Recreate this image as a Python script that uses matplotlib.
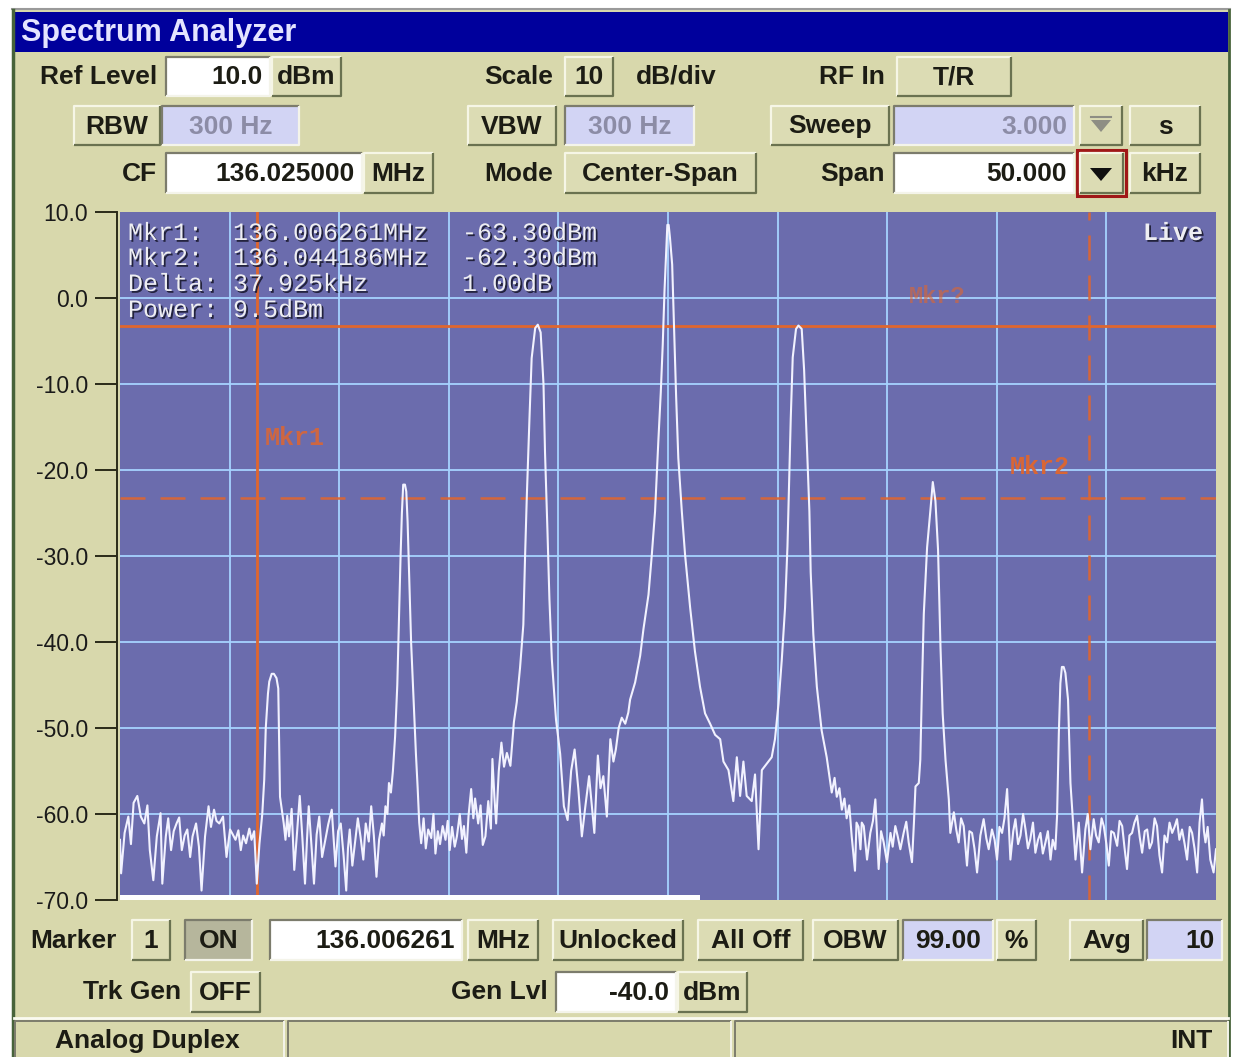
import numpy as np
import matplotlib
matplotlib.use("Agg")
import matplotlib.pyplot as plt
import matplotlib.patheffects as pe
from matplotlib.patches import Rectangle, Polygon

plt.rcParams["font.family"] = ["Liberation Sans", "DejaVu Sans"]

# instrument settings, as shown in the fields
center_mhz = 136.025000
span_khz = 50.0
y_ticks_dbm = [10.0, 0.0, -10.0, -20.0, -30.0, -40.0, -50.0, -60.0, -70.0]
x_div_khz = [0, 5, 10, 15, 20, 25, 30, 35, 40, 45, 50]

# markers
mkr1_mhz = 136.006261
mkr2_mhz = 136.044186
mkr_ref_line_dbm = -3.2
mkr_delta_line_dbm = -23.2

readout = [
    ("Mkr1:", "136.006261MHz", "-63.30dBm"),
    ("Mkr2:", "136.044186MHz", "-62.30dBm"),
    ("Delta:", "37.925kHz", "1.00dB"),
    ("Power:", "9.5dBm", ""),
]

# trace: (kHz from start of span, dBm)
trace = [
    (0.00, -63.0), (0.05, -66.9), (0.21, -62.2), (0.38, -60.3), (0.50, -63.5),
    (0.62, -58.7), (0.79, -57.9), (0.95, -60.3), (1.11, -61.1), (1.25, -59.0),
    (1.36, -64.2), (1.52, -67.7), (1.68, -62.6), (1.85, -59.9), (1.93, -68.1),
    (2.09, -62.6), (2.20, -60.5), (2.33, -64.2), (2.45, -62.0), (2.58, -61.1),
    (2.70, -60.4), (2.82, -64.2), (2.95, -62.5), (3.07, -61.8), (3.20, -65.0),
    (3.31, -62.6), (3.47, -61.1), (3.60, -63.8), (3.72, -68.9), (3.88, -62.6),
    (4.04, -59.1), (4.15, -61.5), (4.29, -59.5), (4.40, -60.8), (4.53, -61.1),
    (4.70, -60.3), (4.86, -65.0), (5.02, -61.8), (5.15, -62.4), (5.27, -63.0),
    (5.40, -61.9), (5.51, -64.2), (5.62, -62.5), (5.75, -63.4), (5.90, -61.7),
    (6.00, -63.0), (6.12, -62.0), (6.24, -68.1), (6.36, -63.5), (6.49, -60.0),
    (6.58, -56.0), (6.65, -50.0), (6.75, -46.0), (6.81, -44.6), (6.92, -43.7),
    (7.02, -43.7), (7.14, -44.2), (7.22, -45.4), (7.26, -52.0), (7.30, -58.0),
    (7.47, -61.1), (7.55, -63.0), (7.63, -60.2), (7.71, -62.6), (7.83, -59.4),
    (7.95, -66.5), (8.08, -62.0), (8.20, -57.9), (8.32, -62.8), (8.44, -68.1),
    (8.53, -63.0), (8.61, -59.1), (8.73, -63.5), (8.85, -68.1), (8.97, -62.4),
    (9.09, -60.3), (9.22, -65.0), (9.34, -63.4), (9.50, -61.2), (9.66, -59.5),
    (9.75, -63.0), (9.83, -66.1), (9.95, -62.0), (10.07, -61.1), (10.20, -64.8),
    (10.32, -68.9), (10.40, -64.0), (10.48, -61.8), (10.60, -66.0), (10.72, -63.4),
    (10.85, -60.5), (10.97, -62.6), (11.10, -65.3), (11.21, -61.1), (11.35, -63.2),
    (11.46, -59.1), (11.58, -62.5), (11.70, -67.3), (11.82, -63.0), (11.95, -61.1),
    (12.03, -62.5), (12.11, -59.1), (12.20, -60.0), (12.27, -56.4), (12.36, -57.5),
    (12.45, -55.0), (12.55, -51.0), (12.65, -45.0), (12.72, -38.0), (12.80, -30.0),
    (12.86, -25.0), (12.92, -21.7), (13.00, -21.7), (13.06, -22.5), (13.12, -26.0),
    (13.20, -33.0), (13.28, -40.0), (13.40, -47.0), (13.50, -53.0), (13.58, -57.0),
    (13.65, -61.0), (13.74, -63.4), (13.85, -60.5), (13.95, -64.0), (14.06, -61.8),
    (14.20, -62.8), (14.30, -60.0), (14.39, -64.6), (14.50, -62.0), (14.60, -63.5),
    (14.72, -61.4), (14.85, -63.0), (14.95, -60.8), (15.04, -64.2), (15.15, -61.5),
    (15.27, -63.8), (15.37, -62.6), (15.50, -60.0), (15.60, -62.9), (15.69, -61.4),
    (15.80, -64.5), (15.90, -60.2), (16.02, -57.1), (16.12, -60.5), (16.20, -58.2),
    (16.34, -61.1), (16.45, -59.0), (16.55, -63.6), (16.67, -62.6), (16.80, -58.5),
    (16.92, -61.7), (16.99, -53.6), (17.08, -58.0), (17.16, -61.1), (17.28, -55.0),
    (17.40, -51.7), (17.52, -54.5), (17.65, -52.9), (17.81, -54.4), (17.97, -49.3),
    (18.10, -47.0), (18.25, -43.0), (18.40, -38.0), (18.48, -30.0), (18.56, -23.0),
    (18.68, -14.0), (18.78, -7.0), (18.94, -3.5), (19.06, -3.1), (19.19, -4.0),
    (19.32, -10.0), (19.39, -18.0), (19.50, -27.0), (19.59, -35.0), (19.70, -42.0),
    (19.89, -49.0), (20.08, -53.0), (20.25, -59.1), (20.42, -60.7), (20.58, -55.0),
    (20.74, -52.5), (20.91, -57.1), (21.07, -62.6), (21.23, -59.1), (21.40, -55.6),
    (21.52, -58.9), (21.64, -62.2), (21.80, -53.2), (21.92, -57.0), (22.05, -55.6),
    (22.21, -60.3), (22.37, -51.3), (22.51, -53.9), (22.62, -52.5), (22.75, -50.0),
    (22.89, -48.8), (23.05, -49.5), (23.19, -48.2), (23.27, -46.7), (23.50, -44.7),
    (23.73, -41.6), (23.88, -38.5), (24.11, -34.5), (24.26, -29.9), (24.41, -24.8),
    (24.56, -16.6), (24.67, -11.0), (24.76, -5.4), (24.84, 0.8), (24.91, 4.9),
    (24.97, 8.5), (25.03, 8.5), (25.09, 7.0), (25.19, 3.9), (25.28, -3.8),
    (25.37, -11.4), (25.47, -18.6), (25.63, -24.8), (25.78, -29.9), (26.01, -36.0),
    (26.23, -41.1), (26.46, -45.2), (26.69, -48.3), (26.92, -49.5), (27.15, -50.8),
    (27.38, -51.3), (27.53, -53.9), (27.76, -54.9), (27.98, -58.5), (28.14, -53.4),
    (28.29, -57.9), (28.44, -53.9), (28.59, -57.9), (28.82, -58.5), (28.97, -55.4),
    (29.13, -64.1), (29.28, -54.9), (29.43, -54.4), (29.58, -53.9), (29.73, -53.4),
    (29.88, -51.3), (30.04, -47.2), (30.19, -42.1), (30.34, -36.0), (30.45, -28.9),
    (30.54, -19.7), (30.60, -14.0), (30.69, -6.9), (30.84, -3.6), (30.95, -3.2),
    (31.10, -3.6), (31.21, -8.4), (31.33, -16.6), (31.45, -24.8), (31.51, -31.9),
    (31.63, -39.1), (31.79, -45.2), (32.01, -50.3), (32.24, -53.4), (32.47, -57.5),
    (32.60, -55.8), (32.70, -58.0), (32.82, -57.0), (32.93, -59.5), (33.05, -58.2),
    (33.15, -60.5), (33.27, -59.0), (33.38, -62.6), (33.53, -66.6), (33.60, -61.0),
    (33.69, -61.5), (33.78, -64.1), (33.84, -61.0), (33.93, -61.4), (34.08, -65.3),
    (34.23, -62.2), (34.35, -60.8), (34.46, -58.3), (34.61, -66.4), (34.72, -62.0),
    (34.84, -63.3), (34.99, -65.6), (35.15, -62.2), (35.25, -63.8), (35.37, -61.4),
    (35.48, -62.6), (35.60, -64.1), (35.75, -62.2), (35.87, -60.9), (35.98, -63.3),
    (36.13, -65.6), (36.22, -61.0), (36.29, -56.8), (36.44, -56.4), (36.51, -53.7),
    (36.59, -44.8), (36.67, -36.7), (36.82, -29.0), (36.97, -24.7), (37.08, -21.4),
    (37.20, -23.6), (37.32, -29.3), (37.43, -40.5), (37.53, -48.3), (37.66, -53.7),
    (37.81, -58.3), (37.88, -62.2), (38.04, -59.8), (38.15, -61.8), (38.26, -63.3),
    (38.37, -60.5), (38.49, -61.4), (38.64, -66.0), (38.75, -62.0), (38.87, -62.2),
    (38.98, -64.0), (39.10, -66.8), (39.25, -62.5), (39.40, -60.6), (39.52, -62.8),
    (39.63, -64.1), (39.78, -61.8), (39.90, -63.0), (40.01, -65.3), (40.12, -61.5),
    (40.24, -62.2), (40.35, -60.5), (40.47, -57.1), (40.62, -65.3), (40.75, -62.0),
    (40.85, -60.6), (40.97, -63.5), (41.08, -62.5), (41.20, -60.0), (41.31, -61.8),
    (41.42, -64.0), (41.53, -62.9), (41.65, -61.0), (41.76, -64.5), (41.88, -63.0),
    (41.99, -62.2), (42.10, -64.6), (42.22, -63.3), (42.33, -62.0), (42.45, -65.3),
    (42.55, -63.0), (42.67, -64.1), (42.75, -60.2), (42.83, -50.6), (42.90, -44.8),
    (42.97, -42.9), (43.05, -42.9), (43.13, -43.6), (43.25, -46.7), (43.36, -56.4),
    (43.46, -60.2), (43.59, -65.3), (43.74, -61.0), (43.89, -66.8), (44.04, -61.8),
    (44.15, -60.0), (44.27, -64.1), (44.42, -60.6), (44.53, -62.5), (44.65, -63.3),
    (44.78, -60.5), (44.88, -61.4), (45.00, -63.5), (45.11, -66.0), (45.22, -62.0),
    (45.34, -62.2), (45.49, -63.7), (45.60, -60.8), (45.72, -61.4), (45.83, -64.0),
    (45.94, -66.4), (46.05, -62.5), (46.17, -62.2), (46.28, -61.0), (46.40, -60.2),
    (46.52, -62.7), (46.63, -64.5), (46.75, -62.0), (46.86, -61.8), (46.97, -64.0),
    (47.08, -63.3), (47.20, -60.5), (47.31, -61.4), (47.42, -64.8), (47.54, -66.8),
    (47.65, -62.5), (47.77, -63.3), (47.88, -61.0), (48.00, -62.2), (48.11, -61.5),
    (48.22, -60.6), (48.33, -63.0), (48.45, -61.8), (48.57, -63.5), (48.68, -65.3),
    (48.80, -61.5), (48.91, -62.2), (49.02, -64.0), (49.14, -66.8), (49.25, -61.0),
    (49.36, -58.3), (49.45, -62.0), (49.52, -63.3), (49.62, -61.5), (49.74, -65.3),
    (49.89, -66.8), (50.00, -64.1),
]

freq_khz = np.array([p[0] for p in trace])
level_dbm = np.array([p[1] for p in trace])

start_mhz = center_mhz - span_khz / 2000.0
mkr1_khz = (mkr1_mhz - start_mhz) * 1000.0
mkr2_khz = (mkr2_mhz - start_mhz) * 1000.0

# colours
PANEL = "#D8D8AC"
BTN = "#DCDCB4"
LIGHT = "#F6F6E6"
DARK = "#6A7250"
LAV = "#D2D4F4"
INK = "#1C1C14"
DIS = "#8C8CA6"
SCREEN = "#6B6CAD"
GRID = "#A6D2FF"
ORANGE = "#E0662E"
MONO = ["Liberation Mono", "DejaVu Sans Mono"]

W, H = 1233, 1057
fig = plt.figure(figsize=(W / 100, H / 100), dpi=100)
fig.patch.set_facecolor("white")

# full-figure axes in pixel units for the instrument panel
ui = fig.add_axes([0, 0, 1, 1], zorder=0)
ui.set_xlim(0, W)
ui.set_ylim(H, 0)
ui.axis("off")


def bevel(x0, y0, x1, y1, face, top, bottom, lw=1.6):
    ui.add_patch(Rectangle((x0, y0), x1 - x0, y1 - y0, facecolor=face, edgecolor="none"))
    ui.plot([x0, x0, x1], [y1, y0, y0], color=top, lw=lw, solid_capstyle="butt")
    ui.plot([x0, x1, x1], [y1, y1, y0], color=bottom, lw=lw, solid_capstyle="butt")


def button(x0, y0, x1, y1, text="", fs=19, color=INK):
    bevel(x0, y0, x1, y1, BTN, LIGHT, DARK)
    if text:
        ui.text((x0 + x1) / 2, (y0 + y1) / 2 + 1, text, ha="center", va="center",
                fontsize=fs, fontweight="bold", color=color)


def field(x0, y0, x1, y1, text, face="white", color=INK, align="right", fs=19):
    bevel(x0, y0, x1, y1, face, "#7C7C6C", "#F4F4EA")
    if align == "right":
        tx, ha = x1 - 7, "right"
    else:
        tx, ha = (x0 + x1) / 2, "center"
    ui.text(tx, (y0 + y1) / 2 + 1, text, ha=ha, va="center",
            fontsize=fs, fontweight="bold", color=color)


def label(x, y, text, ha="right", fs=19):
    ui.text(x, y + 1, text, ha=ha, va="center", fontsize=fs, fontweight="bold", color=INK)


# window frame and title bar
ui.add_patch(Rectangle((12, 10), 1218, H - 10, facecolor=PANEL, edgecolor="none"))
ui.add_patch(Rectangle((15, 12), 1213, 40, facecolor="#00009C", edgecolor="none"))
ui.plot([12, 1230], [9, 9], color="#9A9A9A", lw=1.5)
ui.plot([13, 13], [10, H], color="#47633A", lw=2.5)
ui.plot([1229, 1229], [10, H], color="#47633A", lw=2.0)
ui.text(21, 33, "Spectrum Analyzer", ha="left", va="center", fontsize=22,
        fontweight="bold", color="#E4E4FF")

# row 1
label(157, 76, "Ref Level")
field(166, 57, 270, 96, "10.0")
button(272, 57, 341, 96, "dBm")
label(553, 76, "Scale")
button(565, 57, 613, 96, "10")
label(636, 76, "dB/div", ha="left")
label(885, 76, "RF In")
button(897, 57, 1011, 96, "T/R")

# row 2
button(74, 106, 160, 145, "RBW")
field(162, 106, 299, 145, "300 Hz", face=LAV, color=DIS, align="center")
button(468, 106, 556, 145, "VBW")
field(565, 106, 694, 145, "300 Hz", face=LAV, color=DIS, align="center")
button(771, 106, 889, 145, "Sweep")
field(894, 106, 1074, 145, "3.000", face=LAV, color=DIS)
button(1080, 106, 1122, 145)
ui.add_patch(Polygon([[1091, 120], [1111, 120], [1101, 132]], closed=True,
                     facecolor="#8E8E84", edgecolor="none"))
ui.plot([1091, 1111], [117, 117], color="#8E8E84", lw=1.5)
button(1130, 106, 1200, 145, "s")

# row 3
label(157, 173, "CF")
field(166, 153, 362, 193, "136.025000")
button(364, 153, 433, 193, "MHz")
label(553, 173, "Mode")
button(565, 153, 756, 193, "Center-Span")
label(885, 173, "Span")
field(894, 153, 1074, 193, "50.000")
button(1080, 153, 1123, 193)
ui.add_patch(Rectangle((1077, 150), 49, 46, facecolor="none", edgecolor="#A01818", lw=2.2))
ui.add_patch(Polygon([[1090, 168], [1112, 168], [1101, 181]], closed=True,
                     facecolor="#101010", edgecolor="none"))
button(1130, 153, 1200, 193, "kHz")

# row 4
label(30, 940, "Marker", ha="left")
button(132, 920, 170, 960, "1")
field(185, 920, 252, 960, "ON", face="#B6B69C", align="center")
field(270, 920, 462, 960, "136.006261")
button(468, 920, 538, 960, "MHz")
button(553, 920, 683, 960, "Unlocked")
button(698, 920, 803, 960, "All Off")
button(813, 920, 898, 960, "OBW")
field(903, 920, 993, 960, "99.00", face=LAV, align="center")
button(997, 920, 1036, 960, "%")
button(1070, 920, 1143, 960, "Avg")
field(1147, 920, 1222, 960, "10", face=LAV)

# row 5
label(181, 991, "Trk Gen")
button(191, 972, 260, 1012, "OFF")
label(548, 991, "Gen Lvl")
field(556, 972, 676, 1012, "-40.0")
button(678, 972, 747, 1012, "dBm")

# status bar
ui.plot([14, 1228], [1018, 1018], color="#FAFAF0", lw=2.0)
for xa, xb in [(15, 284), (288, 731), (735, 1228)]:
    bevel(xa, 1021, xb, 1060, PANEL, "#7C7C6C", "#F4F4EA", lw=1.4)
ui.text(147, 1041, "Analog Duplex", ha="center", va="center", fontsize=19,
        fontweight="bold", color=INK)
ui.text(1212, 1041, "INT", ha="right", va="center", fontsize=19,
        fontweight="bold", color=INK)

# the trace display
ax = fig.add_axes([120 / W, (H - 900) / H, 1096 / W, 688 / H], zorder=1)
ax.set_facecolor(SCREEN)
ax.set_xlim(0, span_khz)
ax.set_ylim(y_ticks_dbm[-1], y_ticks_dbm[0])

for v in x_div_khz[1:-1]:
    ax.axvline(v, color=GRID, lw=1.3, zorder=1)
for v in y_ticks_dbm[1:-1]:
    ax.axhline(v, color=GRID, lw=1.3, zorder=1)

ax.axvline(mkr1_khz, color=ORANGE, lw=2.0, zorder=3)
ax.axhline(mkr_ref_line_dbm, color=ORANGE, lw=2.0, zorder=3)
ax.axhline(mkr_delta_line_dbm, color=ORANGE, lw=1.8, dashes=(10, 6), alpha=0.9, zorder=3)
ax.axvline(mkr2_khz, color=ORANGE, lw=1.8, dashes=(10, 6), alpha=0.9, zorder=3)

ax.plot(freq_khz, level_dbm, color="#F2F2FF", lw=1.5, zorder=5)

ax.text(6.6, -16.3, "Mkr1", color=ORANGE, fontsize=18, fontweight="bold",
        family=MONO, ha="left", va="center", alpha=0.85, zorder=4)
ax.text(36.0, 0.2, "Mkr?", color=ORANGE, fontsize=17, fontweight="bold",
        family=MONO, ha="left", va="center", alpha=0.6, zorder=4)
ax.text(40.6, -19.6, "Mkr2", color=ORANGE, fontsize=18, fontweight="bold",
        family=MONO, ha="left", va="center", alpha=0.95, zorder=4)

shadow = [pe.withSimplePatchShadow(offset=(1.3, -1.3), shadow_rgbFace="#1A1A30", alpha=0.9)]
row_y = [233, 258, 284, 310]
col_x = [128, 233, 462]
for (name, freq, level), yy in zip(readout, row_y):
    for txt, xx in zip((name, freq, level), col_x):
        ax.text(xx, yy, txt, transform=ui.transData, color="#EEEEF2", fontsize=18,
                family=MONO, ha="left", va="center", path_effects=shadow, zorder=6)
ax.text(1203, 233, "Live", transform=ui.transData, color="#EEEEF2", fontsize=18,
        fontweight="bold", family=MONO, ha="right", va="center", path_effects=shadow, zorder=6)

# sweep progress strip along the bottom edge
ax.add_patch(Rectangle((120, 895), 580, 5, transform=ui.transData, facecolor="white",
                       edgecolor="none", clip_on=False, zorder=6))

ax.set_xticks(x_div_khz)
ax.set_yticks(y_ticks_dbm)
ax.set_yticklabels([f"{v:.1f}" for v in y_ticks_dbm])
ax.tick_params(axis="x", length=0, labelbottom=False)
ax.tick_params(axis="y", direction="out", length=16, width=1.4, color="#2B2B18",
               labelsize=16.5, labelcolor="#1A1A1A", pad=5)
for side in ("top", "right", "bottom"):
    ax.spines[side].set_visible(False)
ax.spines["left"].set_position(("outward", 2))
ax.spines["left"].set_color("#2B2B18")
ax.spines["left"].set_linewidth(1.4)

fig.savefig("out.png", dpi=100)
